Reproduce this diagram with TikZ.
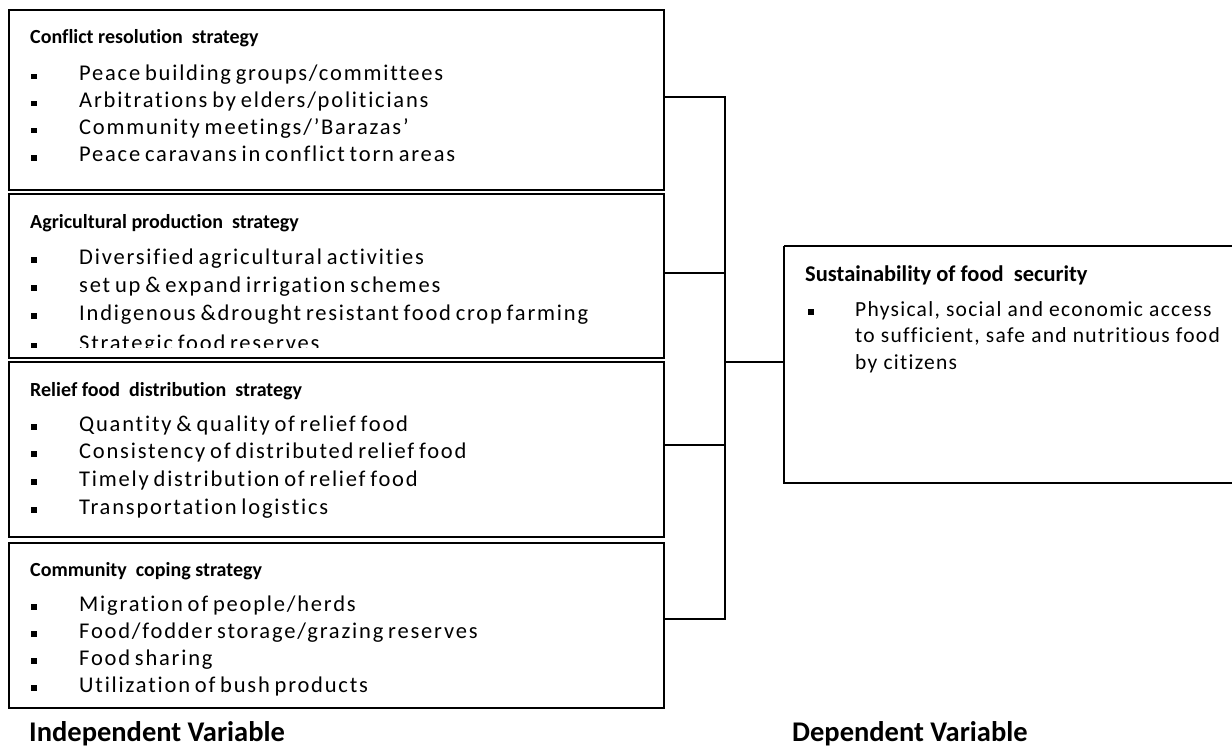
\documentclass[tikz,border=0pt]{standalone}
\usepackage{fontspec}
\setmainfont[Ligatures=NoCommon]{Carlito}
\newfontfamily\itemfont[LetterSpace=8,WordSpace=0.7,Ligatures=NoCommon]{Carlito}
\newfontfamily\itemfontR[LetterSpace=6,Ligatures=NoCommon]{Carlito}
\begin{document}
\begin{tikzpicture}[x=1pt,y=-1pt,
  boxstyle/.style={draw,line width=1.4pt,inner sep=0,outer sep=0},
  ttl/.style={anchor=base west,inner sep=0,font=\bfseries\fontsize{20}{24}\selectfont},
  ttlR/.style={anchor=base west,inner sep=0,font=\bfseries\fontsize{22.5}{26}\selectfont},
  itm/.style={anchor=base west,inner sep=0,font=\itemfont\fontsize{22.5}{27}\selectfont},
  itmR/.style={anchor=base west,inner sep=0,font=\itemfontR\fontsize{21.5}{26}\selectfont},
  varlbl/.style={anchor=base west,inner sep=0,font=\bfseries\fontsize{28.5}{32}\selectfont},
  conn/.style={line width=1.4pt}]
\useasboundingbox (0,0) rectangle (1232,749);
\newcommand{\bul}{\makebox[0pt][r]{\rule[1.5pt]{5.5pt}{5.5pt}\hspace{42.5pt}}}
% boxes
\draw[boxstyle] (9,10) rectangle (664,190);
\node[inner sep=0] (b1) at (336.5,100) {};
\draw[boxstyle] (9,194) rectangle (664,358);
\node[inner sep=0] (b2) at (336.5,276) {};
\draw[boxstyle] (9,362) rectangle (664,537);
\node[inner sep=0] (b3) at (336.5,450) {};
\draw[boxstyle] (9,543) rectangle (664,708);
\node[inner sep=0] (b4) at (336.5,626) {};
\draw[boxstyle] (784,246) -- (1240,246) (784,246) -- (784,483) -- (1240,483);
\node[inner sep=0] (dv) at (1008,365) {};
% box 1
\node[ttl] (t1) at (30,44) {Conflict resolution\ \ strategy};
\node[itm] (i11) at (79,81) {\bul Peace building groups/committees};
\node[itm] (i12) at (79,108) {\bul Arbitrations by elders/politicians};
\node[itm] (i13) at (79,135) {\bul Community meetings/’Barazas’};
\node[itm] (i14) at (79,162) {\bul Peace caravans in conflict torn areas};
% box 2
\begin{scope}
\clip (9,194) rectangle (664,347);
\node[ttl] (t2) at (30,228) {Agricultural production\ \ strategy};
\node[itm] (i21) at (79,264) {\bul Diversified agricultural activities};
\node[itm] (i22) at (79,292) {\bul set up \& expand irrigation schemes};
\node[itm] (i23) at (79,320) {\bul Indigenous \&drought resistant food crop farming};
\node[itm] (i24) at (79,350) {\bul Strategic food reserves};
\end{scope}
% box 3
\node[ttl] (t3) at (30,396) {Relief food\ \ distribution\ \ strategy};
\node[itm] (i31) at (79,431) {\bul Quantity \& quality of relief food};
\node[itm] (i32) at (79,458) {\bul Consistency of distributed relief food};
\node[itm] (i33) at (79,486) {\bul Timely distribution of relief food};
\node[itm] (i34) at (79,514) {\bul Transportation logistics};
% box 4
\node[ttl] (t4) at (30,576) {Community\ \ coping strategy};
\node[itm] (i41) at (79,611) {\bul Migration of people/herds};
\node[itm] (i42) at (79,638) {\bul Food/fodder storage/grazing reserves};
\node[itm] (i43) at (79,665) {\bul Food sharing};
\node[itm] (i44) at (79,692) {\bul Utilization of bush products};
% dependent box
\node[ttlR] (t5) at (805,281) {Sustainability of food\ \ security};
\node[itmR] (i51) at (855,316) {\makebox[0pt][r]{\rule[1.5pt]{5.5pt}{5.5pt}\hspace{41.5pt}}Physical, social and economic access};
\node[itmR] (i52) at (855,342) {to sufficient, safe and nutritious food};
\node[itmR] (i53) at (855,369) {by citizens};
% labels
\node[varlbl] (iv) at (29,741) {Independent Variable};
\node[varlbl] (dvl) at (792,741) {Dependent Variable};
% connectors
\coordinate (c1) at (664,97);
\coordinate (c2) at (664,273);
\coordinate (c3) at (664,445);
\coordinate (c4) at (664,619);
\coordinate (bus) at (725,362);
\coordinate (dvin) at (784,362);
\draw[conn] (c1) -- (c1 -| bus) -- (c4 -| bus) -- (c4);
\draw[conn] (c2) -- (c2 -| bus);
\draw[conn] (c3) -- (c3 -| bus);
\draw[conn] (bus) -- (dvin);
\end{tikzpicture}
\end{document}
